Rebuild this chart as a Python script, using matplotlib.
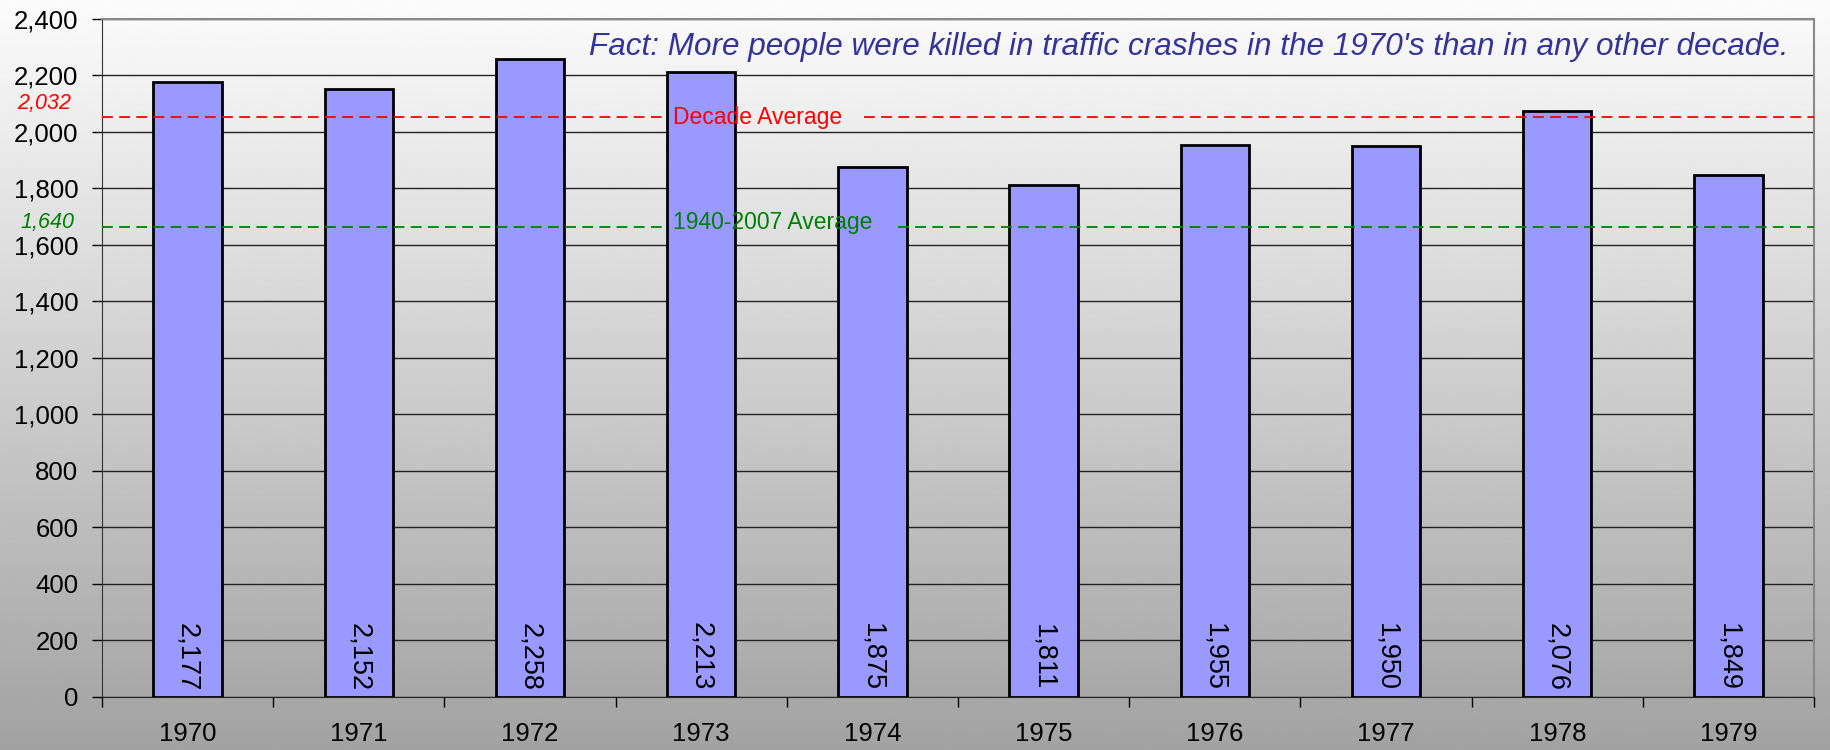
import matplotlib
matplotlib.use("Agg")
import matplotlib.pyplot as plt
import numpy as np

plt.rcParams['font.family'] = ['Liberation Sans', 'DejaVu Sans']

# data
years = ['1970', '1971', '1972', '1973', '1974', '1975', '1976', '1977', '1978', '1979']
deaths = [2177, 2152, 2258, 2213, 1875, 1811, 1955, 1950, 2076, 1849]
decade_avg_label = 2032
longterm_avg_label = 1640
# where the dashed lines actually sit in the picture
decade_avg_line = 2052
longterm_avg_line = 1664
yticks = list(range(0, 2401, 200))
title = "Fact: More people were killed in traffic crashes in the 1970's than in any other decade."

fig = plt.figure(figsize=(18.3, 7.5), dpi=100)

# grey gradient behind everything
bg = fig.add_axes([0, 0, 1, 1], zorder=-10)
grad = np.linspace(0.985, 0.635, 256).reshape(-1, 1)
bg.imshow(grad, aspect='auto', cmap='gray', vmin=0, vmax=1, extent=[0, 1, 0, 1])
bg.axis('off')

ax = fig.add_axes([0.0557, 0.0707, 0.9356, 0.904])
ax.set_facecolor('none')

x = np.arange(len(years))
ax.bar(x, deaths, width=0.4, color='#9999ff', edgecolor='black', linewidth=2, zorder=3)

for xi, v in zip(x, deaths):
    ax.text(xi, 22, f"{v:,}", rotation=-90, ha='center', va='bottom',
            fontsize=19.5, color='black', zorder=5)

ax.set_xlim(-0.5, len(years) - 0.5)
ax.set_ylim(0, 2400)
ax.set_yticks(yticks)
ax.set_yticklabels([f"{t:,}" for t in yticks])
ax.yaxis.grid(True, color='#222222', linewidth=1)
ax.set_axisbelow(True)

ax.set_xticks(x)
ax.set_xticklabels(years)
ax.set_xticks(np.arange(-0.5, len(years)), minor=True)
ax.tick_params(axis='x', which='major', length=0, pad=18, labelsize=18.5)
ax.tick_params(axis='x', which='minor', length=7, width=1, direction='out')
ax.tick_params(axis='y', length=7, width=1, pad=10, labelsize=18.5)

for s in ['top', 'right']:
    ax.spines[s].set_color('#888888')
    ax.spines[s].set_linewidth(1.5)
ax.spines['left'].set_color('#333333')
ax.spines['bottom'].set_color('#222222')

# average lines, broken where the labels sit
dash = (0, (6, 3.5))
ax.plot([-0.5, 2.8], [decade_avg_line] * 2, color='red', lw=1.3, ls=dash, zorder=4)
ax.plot([3.95, 9.5], [decade_avg_line] * 2, color='red', lw=1.3, ls=dash, zorder=4)
ax.plot([-0.5, 2.8], [longterm_avg_line] * 2, color='green', lw=1.3, ls=dash, zorder=4)
ax.plot([4.15, 9.5], [longterm_avg_line] * 2, color='green', lw=1.3, ls=dash, zorder=4)

ax.text(2.835, decade_avg_line, "Decade Average", color='red', fontsize=16.5,
        ha='left', va='center', zorder=6)
ax.text(2.835, longterm_avg_line + 15, "1940-2007 Average", color='green', fontsize=16.5,
        ha='left', va='center', zorder=6)

ax.annotate(f"{decade_avg_label:,}", xy=(0, decade_avg_line), xycoords=('axes fraction', 'data'),
            xytext=(-61, 10), textcoords='offset points', color='red', fontsize=15.5,
            style='italic', ha='left', va='center', annotation_clip=False)
ax.annotate(f"{longterm_avg_label:,}", xy=(0, longterm_avg_line), xycoords=('axes fraction', 'data'),
            xytext=(-59, 3), textcoords='offset points', color='green', fontsize=15.5,
            style='italic', ha='left', va='center', annotation_clip=False)

ax.text(0.635, 0.9587, title, transform=ax.transAxes, ha='center', va='center',
        fontsize=22.7, style='italic', color='#333399', zorder=6)

fig.savefig('out.png', dpi=100)
